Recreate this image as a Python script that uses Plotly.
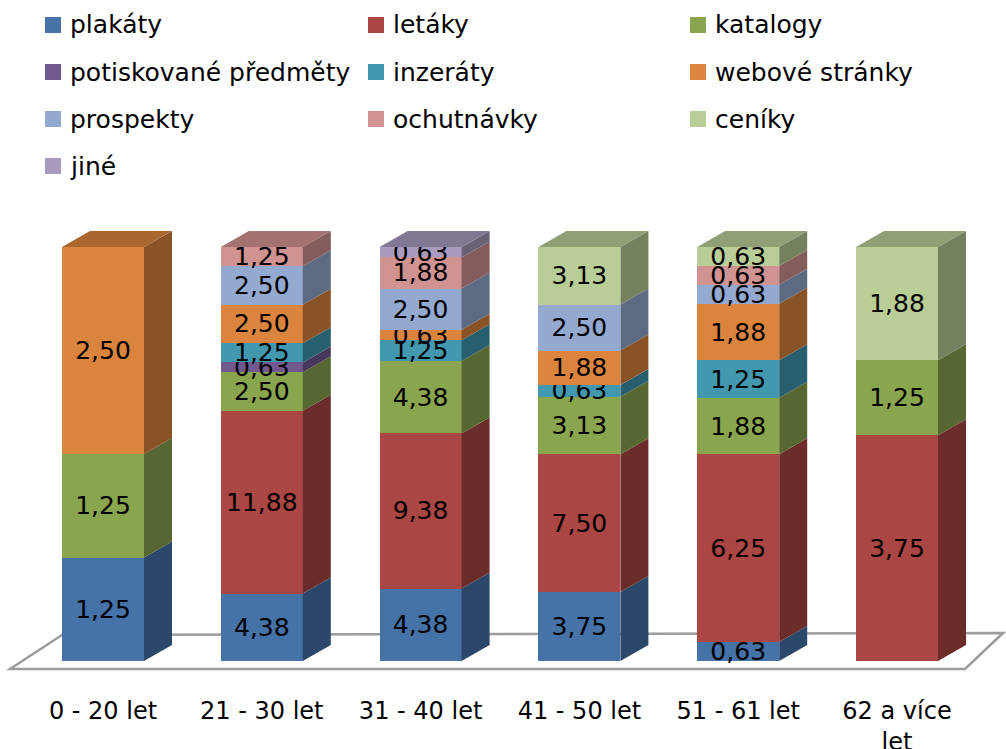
import plotly.graph_objects as go

# ---------------- data ----------------
categories = ["0 - 20 let", "21 - 30 let", "31 - 40 let", "41 - 50 let", "51 - 61 let", "62 a více let"]
tick_labels = ["0 - 20 let", "21 - 30 let", "31 - 40 let", "41 - 50 let", "51 - 61 let", "62 a více<br>let"]

series_names = ["plakáty", "letáky", "katalogy", "potiskované předměty", "inzeráty",
                "webové stránky", "prospekty", "ochutnávky", "ceníky", "jiné"]

plakaty     = [1.25, 4.38, 4.38, 3.75, 0.63, 0.00]
letaky      = [0.00, 11.88, 9.38, 7.50, 6.25, 3.75]
katalogy    = [1.25, 2.50, 4.38, 3.13, 1.88, 1.25]
potiskovane = [0.00, 0.63, 0.00, 0.00, 0.00, 0.00]
inzeraty    = [0.00, 1.25, 1.25, 0.63, 1.25, 0.00]
webove      = [2.50, 2.50, 0.63, 1.88, 1.88, 0.00]
prospekty   = [0.00, 2.50, 2.50, 2.50, 0.63, 0.00]
ochutnavky  = [0.00, 1.25, 1.88, 0.00, 0.63, 0.00]
ceniky      = [0.00, 0.00, 0.00, 3.13, 0.63, 1.88]
jine        = [0.00, 0.00, 0.63, 0.00, 0.00, 0.00]

series_values = [plakaty, letaky, katalogy, potiskovane, inzeraty,
                 webove, prospekty, ochutnavky, ceniky, jine]

colors = ["#4572A7", "#AA4643", "#89A54E", "#71588F", "#4198AF",
          "#DB843D", "#93A9CF", "#D19392", "#B9CD96", "#A99BBD"]

# ---------------- geometry / style ----------------
W, H = 1006, 749
PX_PER_X = 158.8          # pixels per category step
PX_PER_Y = 4.14           # pixels per percent
X0_PX = 103               # pixel position of first category centre
Y0_PX = 661               # pixel position of 0 %
PLOT_TOP, PLOT_BOT = 190, 690
BAR_W = 82 / PX_PER_X
DX = 28 / PX_PER_X        # depth offset (x units)
DY = 16 / PX_PER_Y        # depth offset (y units)

x_range = [-X0_PX / PX_PER_X, (W - X0_PX) / PX_PER_X]
y_range = [(Y0_PX - PLOT_BOT) / PX_PER_Y, (Y0_PX - PLOT_TOP) / PX_PER_Y]

FONT = "DejaVu Sans"


def shade(hex_color, f):
    h = hex_color.lstrip("#")
    r, g, b = (int(h[i:i + 2], 16) for i in (0, 2, 4))
    return "rgb(%d,%d,%d)" % (r * f, g * f, b * f)


def px(x):
    return x / W


def py(y):
    return 1 - y / H


n_cat = len(categories)
totals = [sum(s[i] for s in series_values) for i in range(n_cat)]
pcts = [[v / totals[i] * 100 for i, v in enumerate(s)] for s in series_values]

fig = go.Figure()

# front faces
for name, vals, pc, col in zip(series_names, series_values, pcts, colors):
    fig.add_trace(go.Bar(
        x=list(range(n_cat)), y=pc, width=BAR_W, name=name,
        marker=dict(color=col, line=dict(width=0)),
        text=[("%.2f" % v).replace(".", ",") if v > 0 else "" for v in vals],
        textposition="inside", insidetextanchor="middle", textangle=0,
        textfont=dict(family=FONT, size=25, color="black"),
        showlegend=False, hoverinfo="skip",
    ))

# side faces (computed from cumulative data)
cum = [0.0] * n_cat
for name, pc, col in zip(series_names, pcts, colors):
    xs, ys = [], []
    for i in range(n_cat):
        b, t = cum[i], cum[i] + pc[i]
        if pc[i] > 0:
            xr = i + BAR_W / 2
            xs += [xr, xr + DX, xr + DX, xr, xr, None]
            ys += [b, b + DY, t + DY, t, b, None]
        cum[i] = t
    if xs:
        fig.add_trace(go.Scatter(x=xs, y=ys, mode="lines", fill="toself",
                                 fillcolor=shade(col, 0.63), line=dict(width=0),
                                 showlegend=False, hoverinfo="skip"))

# top faces coloured by topmost non-zero series
for i in range(n_cat):
    top_idx = max(k for k in range(len(series_values)) if series_values[k][i] > 0)
    xl, xr = i - BAR_W / 2, i + BAR_W / 2
    fig.add_trace(go.Scatter(
        x=[xl, xl + DX, xr + DX, xr, xl], y=[100, 100 + DY, 100 + DY, 100, 100],
        mode="lines", fill="toself", fillcolor=shade(colors[top_idx], 0.78),
        line=dict(width=0), showlegend=False, hoverinfo="skip"))

# floor outline
floor_pts = [(10, 669), (62, 635), (1003, 633), (965, 669)]
path = "M " + " L ".join("%f,%f" % (px(a), py(b)) for a, b in floor_pts) + " Z"
shapes = [dict(type="path", path=path, xref="paper", yref="paper",
               line=dict(color="#9C9C9C", width=2.5), layer="below")]

# manual legend (3 columns)
annotations = []
leg_cols = [45, 368, 690]
leg_rows = [25, 72, 119, 166]
for k, (name, col) in enumerate(zip(series_names, colors)):
    cx = leg_cols[k % 3]
    cy = leg_rows[k // 3]
    shapes.append(dict(type="rect", xref="paper", yref="paper",
                       x0=px(cx), x1=px(cx + 16), y0=py(cy + 8), y1=py(cy - 8),
                       fillcolor=col, line=dict(width=0)))
    annotations.append(dict(x=px(cx + 23), y=py(cy), xref="paper", yref="paper",
                            text=name, showarrow=False, xanchor="left", yanchor="middle",
                            font=dict(family=FONT, size=25, color="black")))

fig.update_layout(
    width=W, height=H, barmode="stack",
    margin=dict(l=0, r=0, t=0, b=0, autoexpand=False),
    paper_bgcolor="white", plot_bgcolor="white",
    xaxis=dict(range=x_range, domain=[0, 1], tickvals=list(range(n_cat)), ticktext=tick_labels,
               showgrid=False, zeroline=False, showline=False, ticks="",
               ticklabelstandoff=4, automargin=False,
               tickfont=dict(family=FONT, size=24, color="black"), fixedrange=True),
    yaxis=dict(range=y_range, domain=[1 - PLOT_BOT / H, 1 - PLOT_TOP / H], visible=False,
               automargin=False, fixedrange=True),
    uniformtext=dict(minsize=25, mode="show"),
    shapes=shapes, annotations=annotations,
    showlegend=False,
)

fig.write_html("out.html", config={"displayModeBar": False})
